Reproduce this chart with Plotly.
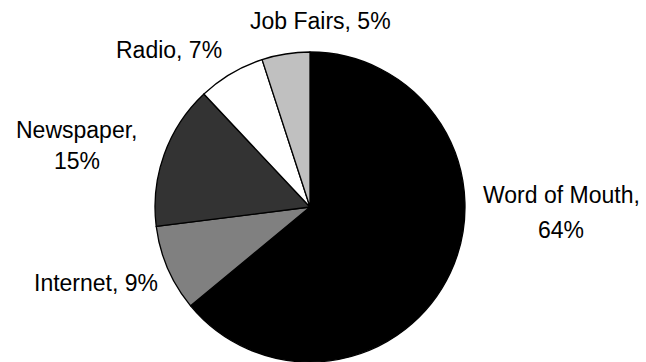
import plotly.graph_objects as go

# Recruiting sources, share of hires (%)
sources = ["Word of Mouth", "Internet", "Newspaper", "Radio", "Job Fairs"]
shares = [64, 9, 15, 7, 5]
fills = ["#000000", "#808080", "#333333", "#ffffff", "#c0c0c0"]

# label layout in px: x centre, y of first line, y of second line (None = one line)
label_pos = {
    "Word of Mouth": (561, 195, 230),
    "Internet": (96, 283, None),
    "Newspaper": (76.5, 130.5, 160.5),
    "Radio": (169, 50, None),
    "Job Fairs": (320.5, 21, None),
}

W, H = 646, 362
R = 155
cx, cy = 310, 207

fig = go.Figure(
    go.Pie(
        labels=sources,
        values=shares,
        sort=False,
        direction="clockwise",
        rotation=0,
        textinfo="none",
        hoverinfo="label+percent",
        marker=dict(colors=fills, line=dict(color="#000000", width=1.3)),
        domain=dict(
            x=[(cx - R) / W, (cx + R) / W],
            y=[0, 2 * R / H],
        ),
        showlegend=False,
    )
)

label_font = dict(family="Liberation Sans, Arial, sans-serif", size=23, color="#000000")


def put_text(text, x, y):
    fig.add_annotation(
        x=x / W,
        y=1 - y / H,
        xref="paper",
        yref="paper",
        text=text,
        showarrow=False,
        xanchor="center",
        yanchor="middle",
        align="center",
        font=label_font,
    )


for name, val in zip(sources, shares):
    x, y1, y2 = label_pos[name]
    if y2 is None:
        put_text(f"{name}, {val}%", x, y1)
    else:
        put_text(f"{name},", x, y1)
        put_text(f"{val}%", x, y2)

fig.update_layout(
    width=W,
    height=H,
    margin=dict(l=0, r=0, t=0, b=0),
    paper_bgcolor="#ffffff",
    plot_bgcolor="#ffffff",
)

fig.write_html("out.html")
